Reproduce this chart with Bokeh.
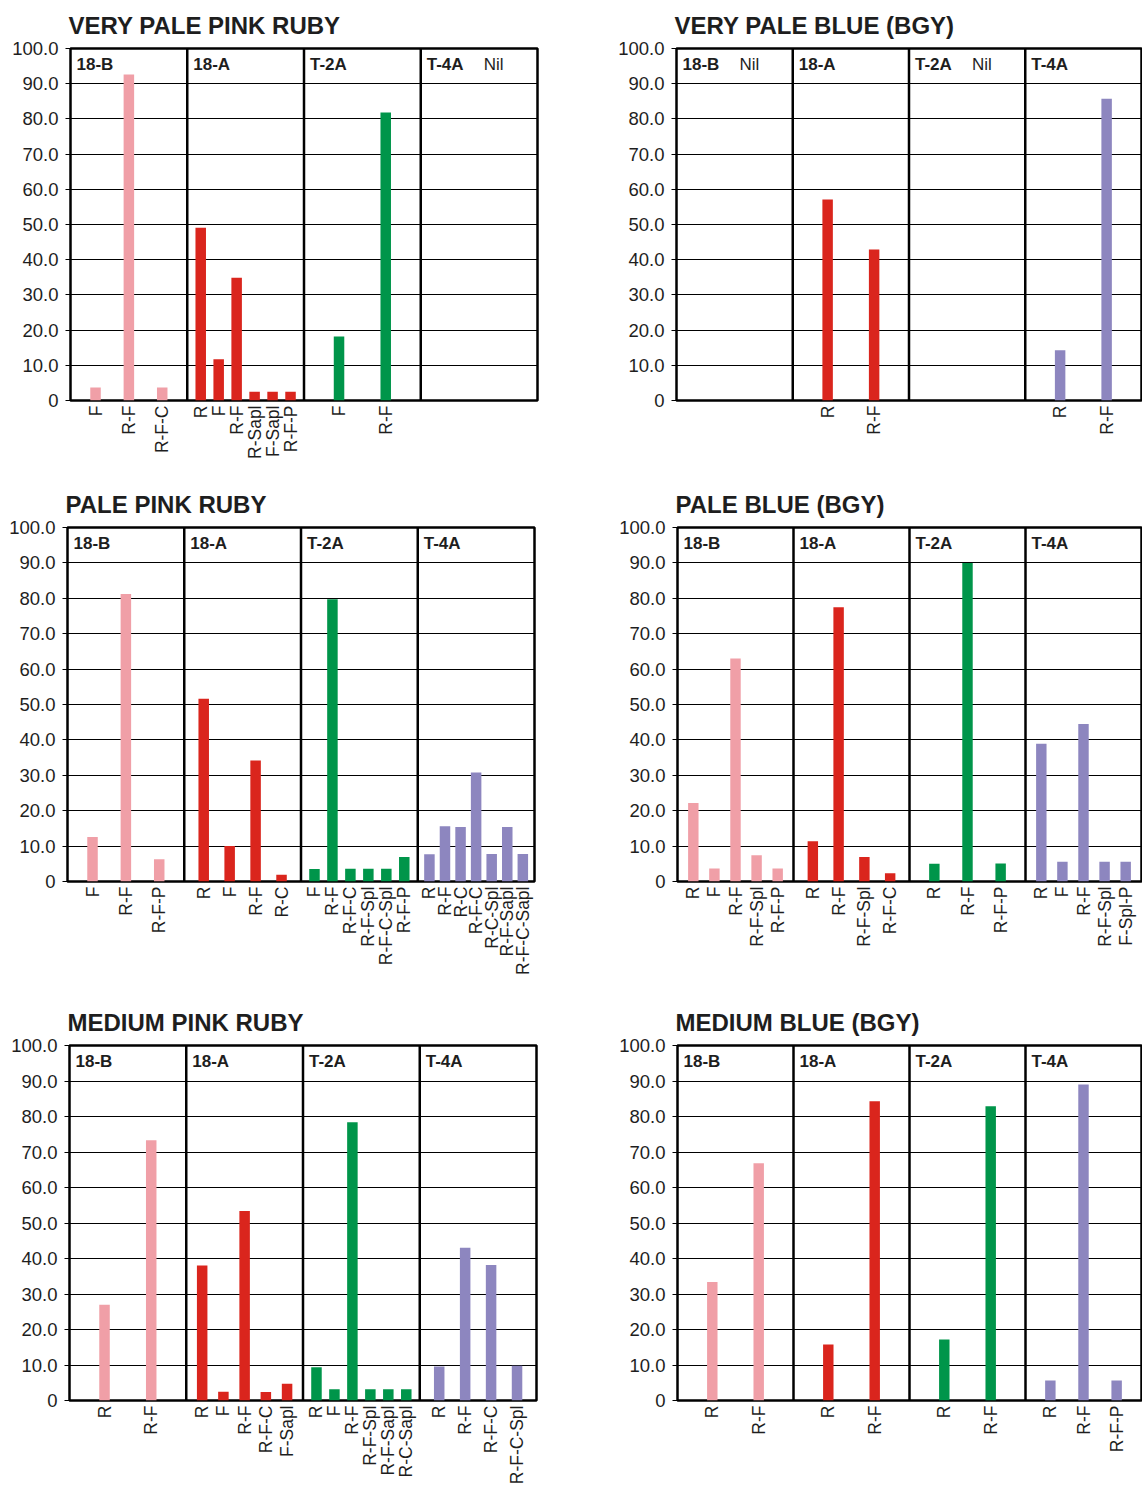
import math
from bokeh.plotting import figure
from bokeh.layouts import column, row
from bokeh.models import Range1d, FixedTicker, PrintfTickFormatter, ColumnDataSource
from bokeh.core.properties import value
from bokeh.embed import file_html
from bokeh.resources import INLINE

FONT = "Liberation Sans"

groups = ["18-B", "18-A", "T-2A", "T-4A"]
group_colors = ["#F09FA7", "#DA251D", "#00954A", "#8D86BF"]
y_ticks = [0, 10, 20, 30, 40, 50, 60, 70, 80, 90, 100]

# ---- VERY PALE PINK RUBY
vpp_title = "VERY PALE PINK RUBY"
vpp_labels = [["F", "R-F", "R-F-C"],
              ["R", "F", "R-F", "R-Sapl", "F-Sapl", "R-F-P"],
              ["F", "R-F"],
              []]
vpp_values = [[3.7, 92.6, 3.7],
              [49.1, 11.7, 34.9, 2.5, 2.5, 2.5],
              [18.2, 81.8],
              []]
vpp_notes = ["", "", "", "Nil"]

# ---- VERY PALE BLUE (BGY)
vpb_title = "VERY PALE BLUE (BGY)"
vpb_labels = [[], ["R", "R-F"], [], ["R", "R-F"]]
vpb_values = [[], [57.1, 42.9], [], [14.3, 85.7]]
vpb_notes = ["Nil", "", "Nil", ""]

# ---- PALE PINK RUBY
pp_title = "PALE PINK RUBY"
pp_labels = [["F", "R-F", "R-F-P"],
             ["R", "F", "R-F", "R-C"],
             ["F", "R-F", "R-F-C", "R-F-Spl", "R-F-C-Spl", "R-F-P"],
             ["R", "R-F", "R-C", "R-F-C", "R-C-Spl", "R-F-Sapl", "R-F-C-Sapl"]]
pp_values = [[12.6, 81.2, 6.3],
             [51.6, 10.0, 34.2, 1.9],
             [3.5, 79.7, 3.6, 3.6, 3.6, 6.9],
             [7.7, 15.6, 15.4, 30.8, 7.8, 15.4, 7.8]]
pp_notes = ["", "", "", ""]

# ---- PALE BLUE (BGY)
pb_title = "PALE BLUE (BGY)"
pb_labels = [["R", "F", "R-F", "R-F-Spl", "R-F-P"],
             ["R", "R-F", "R-F-Spl", "R-F-C"],
             ["R", "R-F", "R-F-P"],
             ["R", "F", "R-F", "R-F-Spl", "F-Spl-P"]]
pb_values = [[22.2, 3.7, 63.0, 7.4, 3.7],
             [11.4, 77.5, 6.9, 2.3],
             [5.0, 90.0, 5.1],
             [38.9, 5.6, 44.5, 5.6, 5.6]]
pb_notes = ["", "", "", ""]

# ---- MEDIUM PINK RUBY
mp_title = "MEDIUM PINK RUBY"
mp_labels = [["R", "R-F"],
             ["R", "F", "R-F", "R-F-C", "F-Sapl"],
             ["R", "F", "R-F", "R-F-Spl", "R-F-Sapl", "R-C-Sapl"],
             ["R", "R-F", "R-F-C", "R-F-C-Spl"]]
mp_values = [[27.0, 73.3],
             [38.0, 2.5, 53.4, 2.4, 4.7],
             [9.4, 3.2, 78.4, 3.2, 3.2, 3.2],
             [9.6, 43.0, 38.2, 9.8]]
mp_notes = ["", "", "", ""]

# ---- MEDIUM BLUE (BGY)
mb_title = "MEDIUM BLUE (BGY)"
mb_labels = [["R", "R-F"], ["R", "R-F"], ["R", "R-F"], ["R", "R-F", "R-F-P"]]
mb_values = [[33.4, 66.8], [15.8, 84.3], [17.2, 82.9], [5.6, 89.0, 5.6]]
mb_notes = ["", "", "", ""]


def make_panel(title, labels, values, notes, width, height, bl, bt, bb, br):
    p = figure(width=width, height=height, output_backend="svg", toolbar_location=None,
               x_range=Range1d(0, len(groups)), y_range=Range1d(0, 100),
               min_border_left=bl, min_border_top=bt, min_border_bottom=bb,
               min_border_right=br, tools="")
    p.outline_line_color = "black"
    p.outline_line_width = 2.5
    p.background_fill_color = "white"
    p.border_fill_color = "white"

    p.title.text = title
    p.title.text_font = FONT
    p.title.text_font_size = "24px"
    p.title.text_font_style = "bold"
    p.title.text_color = "#1e1e1e"
    p.title.align = "left"
    p.title.offset = -2
    p.title.standoff = 19

    xs, tops, cols, labs = [], [], [], []
    for g, (gl, gv) in enumerate(zip(labels, values)):
        n = len(gl)
        s = 1.0 / (n + 0.5) if n else 0
        for i, (lab, v) in enumerate(zip(gl, gv)):
            x = round(g + 0.5 + (i - (n - 1) / 2.0) * s, 4)
            xs.append(x)
            tops.append(v)
            cols.append(group_colors[g])
            labs.append(lab)
    src = ColumnDataSource(dict(x=xs, top=tops, color=cols))

    p.xgrid.visible = False
    p.ygrid.ticker = FixedTicker(ticks=y_ticks)
    p.ygrid.grid_line_color = "black"
    p.ygrid.grid_line_width = 1.2

    p.vbar(x="x", top="top", bottom=0, width=0.09, fill_color="color",
           line_color=None, source=src)

    bounds = list(range(1, len(groups)))
    p.segment(x0=bounds, y0=[0] * len(bounds), x1=bounds, y1=[100] * len(bounds),
              line_color="black", line_width=2.5)

    p.text(x=list(range(len(groups))), y=[95.5] * len(groups), text=groups,
           x_offset=6, text_baseline="middle", text_align="left",
           text_font=value(FONT), text_font_size="17px", text_font_style="bold",
           text_color="#1e1e1e")
    nx = [g for g, nt in enumerate(notes) if nt]
    nt_txt = [nt for nt in notes if nt]
    if nx:
        p.text(x=nx, y=[95.5] * len(nx), text=nt_txt, x_offset=63,
               text_baseline="middle", text_align="left",
               text_font=value(FONT), text_font_size="17px", text_color="#1e1e1e")

    ya = p.yaxis[0]
    ya.ticker = FixedTicker(ticks=y_ticks)
    ya.formatter = PrintfTickFormatter(format="%.1f")
    ya.major_label_overrides = {0: "0"}
    ya.axis_line_color = None
    ya.minor_tick_line_color = None
    ya.major_tick_in = 0
    ya.major_tick_out = 5
    ya.major_tick_line_color = "black"
    ya.major_tick_line_width = 1.2
    ya.major_label_standoff = 7
    ya.major_label_text_font = FONT
    ya.major_label_text_font_size = "18.5px"
    ya.major_label_text_color = "#1e1e1e"

    xa = p.xaxis[0]
    xa.ticker = FixedTicker(ticks=xs)
    xa.major_label_overrides = {x: l for x, l in zip(xs, labs)}
    xa.major_label_orientation = math.pi / 2
    xa.axis_line_color = None
    xa.major_tick_line_color = None
    xa.minor_tick_line_color = None
    xa.major_tick_in = 0
    xa.major_tick_out = 0
    xa.major_label_standoff = 5
    xa.major_label_text_font = FONT
    xa.major_label_text_font_size = "17.5px"
    xa.major_label_text_color = "#1e1e1e"
    return p


LW, RW = 608, 534
p1 = make_panel(vpp_title, vpp_labels, vpp_values, vpp_notes, LW, 479, 70, 48, 79, 71)
p2 = make_panel(vpb_title, vpb_labels, vpb_values, vpb_notes, RW, 479, 68, 48, 79, 1)
p3 = make_panel(pp_title, pp_labels, pp_values, pp_notes, LW, 518, 67, 48, 116, 74)
p4 = make_panel(pb_title, pb_labels, pb_values, pb_notes, RW, 518, 69, 48, 116, 1)
p5 = make_panel(mp_title, mp_labels, mp_values, mp_notes, LW, 490, 69, 48, 87, 72)
p6 = make_panel(mb_title, mb_labels, mb_values, mb_notes, RW, 490, 69, 48, 87, 1)

layout = column(row(p1, p2), row(p3, p4), row(p5, p6))
open("out.html", "w").write(file_html(layout, INLINE))
